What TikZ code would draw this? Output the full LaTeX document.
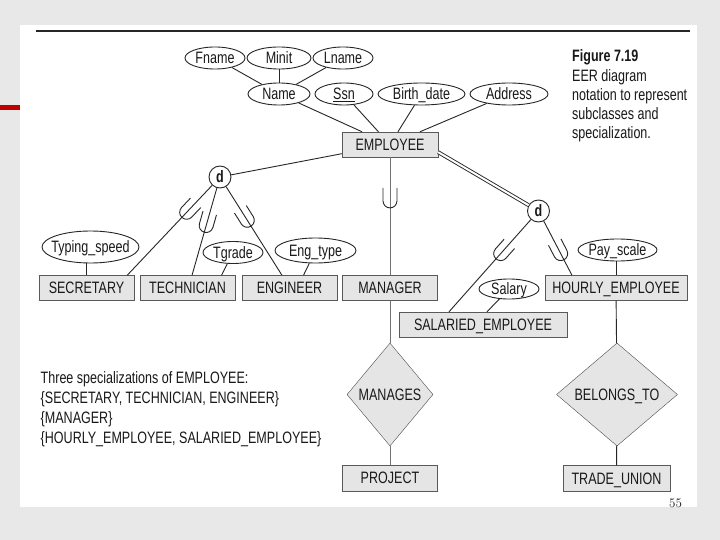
\documentclass[tikz,border=0pt]{standalone}
\usepackage{fontspec}
\setsansfont{Liberation Sans}[FakeStretch=0.76]
\usetikzlibrary{shapes.geometric,calc,decorations.markings}
\newcommand{\ctext}[1]{\makebox[0pt]{#1}}

\begin{document}
\begin{tikzpicture}[x=1pt,y=-1pt,every node/.style={font=\sffamily\fontsize{16.5}{19.6}\selectfont,text=black!90},
                entity/.style={draw=black!65,fill=black!10,inner sep=0pt,text height=11.5pt,text depth=0pt,minimum width=95pt,minimum height=25pt},
                attrib/.style={ellipse,draw=black!85,line width=0.9pt,inner sep=0pt,text height=11.5pt,text depth=0pt,minimum height=22pt},
                relship/.style={diamond,draw=black!70,fill=black!10,inner sep=0pt,text height=11.5pt,text depth=0pt,minimum height=103pt},
                disjoint/.style={circle,draw=black!85,line width=0.9pt,fill=white,inner sep=0pt,text height=11.5pt,text depth=0pt,minimum size=22pt},
                link/.style={draw=black!85,line width=0.9pt},
                subsetmark/.style={postaction={decorate},decoration={markings,mark=at position #1 with {\draw[black!85,line width=0.9pt] (-13,7) -- (0,7) arc (90:-90:7) -- (-13,-7);}}}]
                \useasboundingbox (0,0) rectangle (720,540);
                \fill[black!9] (0,0) rectangle (720,540);
                \fill[white] (20,25) rectangle (697,507);
                \draw[line width=1.3pt,black!85] (36,31) -- (690,31);
                \draw[line width=5pt,red!75!black] (0,108) -- (20,108);

                \node[attrib,minimum width=60pt] (fname) at (215,58) {\ctext{Fname}};
                \node[attrib,minimum width=64pt] (minit) at (279,58) {\ctext{Minit}};
                \node[attrib,minimum width=60pt] (lname) at (343,58) {\ctext{Lname}};
                \node[attrib,minimum width=62pt] (name) at (279,94) {\ctext{Name}};
                \node[attrib,minimum width=58pt] (ssn) at (344,94) {\ctext{\underline{Ssn}}};
                \node[attrib,minimum width=87pt] (bdate) at (421.5,94) {\ctext{Birth\_date}};
                \node[attrib,minimum width=78pt] (addr) at (509,94) {\ctext{Address}};
                \node[entity,minimum width=96pt] (emp) at (390,144.5) {EMPLOYEE};

                \node[disjoint] (d1) at (220,177) {\textbf{d}};
                \node[disjoint] (d2) at (538.5,211) {\textbf{d}};

                \node[attrib,minimum width=97pt,minimum height=32pt] (typing) at (90.5,247) {\ctext{Typing\_speed}};
                \node[attrib,minimum width=60pt] (tgrade) at (233,252.5) {\ctext{Tgrade}};
                \node[attrib,minimum width=81pt,minimum height=25pt] (engtype) at (315.5,250.5) {\ctext{Eng\_type}};
                \node[attrib,minimum width=79pt] (payscale) at (617.5,250) {\ctext{Pay\_scale}};
                \node[attrib,minimum width=60pt,minimum height=20pt] (salary) at (509,289) {\ctext{Salary}};

                \node[entity] (sec) at (86.5,288) {SECRETARY};
                \node[entity] (tech) at (187.5,288) {TECHNICIAN};
                \node[entity] (eng) at (289.5,288) {ENGINEER};
                \node[entity] (mgr) at (390,288) {MANAGER};
                \node[entity,minimum width=142pt] (hourly) at (616,288) {HOURLY\_EMPLOYEE};
                \node[entity,minimum width=168pt] (salaried) at (483,324.5) {SALARIED\_EMPLOYEE};

                \node[relship,minimum width=86pt] (manages) at (390,394.5) {\ctext{MANAGES}};
                \node[relship,minimum width=121pt] (belongs) at (617,394.5) {\ctext{BELONGS\_TO}};
                \node[entity,minimum height=26pt] (project) at (390,478) {PROJECT};
                \node[entity,minimum width=107pt,minimum height=26pt] (union) at (616.5,478.5) {TRADE\_UNION};

                \node[anchor=base west,align=left,inner sep=0pt,font=\sffamily\fontsize{16.5}{19.3}\selectfont] (caption) at (572,139) {\textbf{Figure 7.19}\\EER diagram\\notation to represent\\subclasses and\\specialization.};
                \node[anchor=base west,align=left,inner sep=0pt,font=\sffamily\fontsize{16.5}{20}\selectfont] (note) at (40.5,443) {Three specializations of EMPLOYEE:\\\{SECRETARY, TECHNICIAN, ENGINEER\}\\\{MANAGER\}\\\{HOURLY\_EMPLOYEE, SALARIED\_EMPLOYEE\}};
                \node[font=\rmfamily\fontsize{13}{13}\selectfont] (pageno) at (675.5,503.5) {55};

                \draw[link] (fname) -- (name);
                \draw[link] (minit) -- (name);
                \draw[link] (lname) -- (name);
                \draw[link] (name) -- (emp);
                \draw[link] (ssn) -- (emp);
                \draw[link] (bdate) -- (emp);
                \draw[link] (addr) -- (emp);

                \draw[link] (emp) -- (d1);
                \draw[link,double=white,double distance=2pt] ($(emp.south east)+(0,-5)$) -- (d2);
                \draw[link,subsetmark=0.3] (d1) -- ($(sec.north east)+(-7,0)$);
                \draw[link,subsetmark=0.43] (d1) -- ($(tech.north)+(4.5,0)$);
                \draw[link,subsetmark=0.38] (d1) -- ($(eng.north)+(-7.5,0)$);
                \draw[link,draw=black!55,subsetmark=0.37] (emp) -- (mgr);
                \draw[link,subsetmark=0.37] (d2) -- ($(salaried.north)+(-34,0)$);
                \draw[link,subsetmark=0.6] (d2) -- ($(hourly.north)+(-44,0)$);

                \draw[link] (typing.south -| sec) -- (sec);
                \draw[link] (tgrade) -- ($(tech.north)+(34,0)$);
                \draw[link] (engtype) -- ($(eng.north)+(14,0)$);
                \draw[link] (salary) -- ($(salaried.north)+(4,0)$);
                \draw[link] (payscale.south -| hourly) -- (hourly);

                \draw[link,draw=black!55] (mgr) -- (manages);
                \draw[link,draw=black!55] (manages) -- (project);
                \draw[link] (hourly) -- (belongs);
                \draw[link] (belongs) -- (union);
            \end{tikzpicture}
\end{document}
